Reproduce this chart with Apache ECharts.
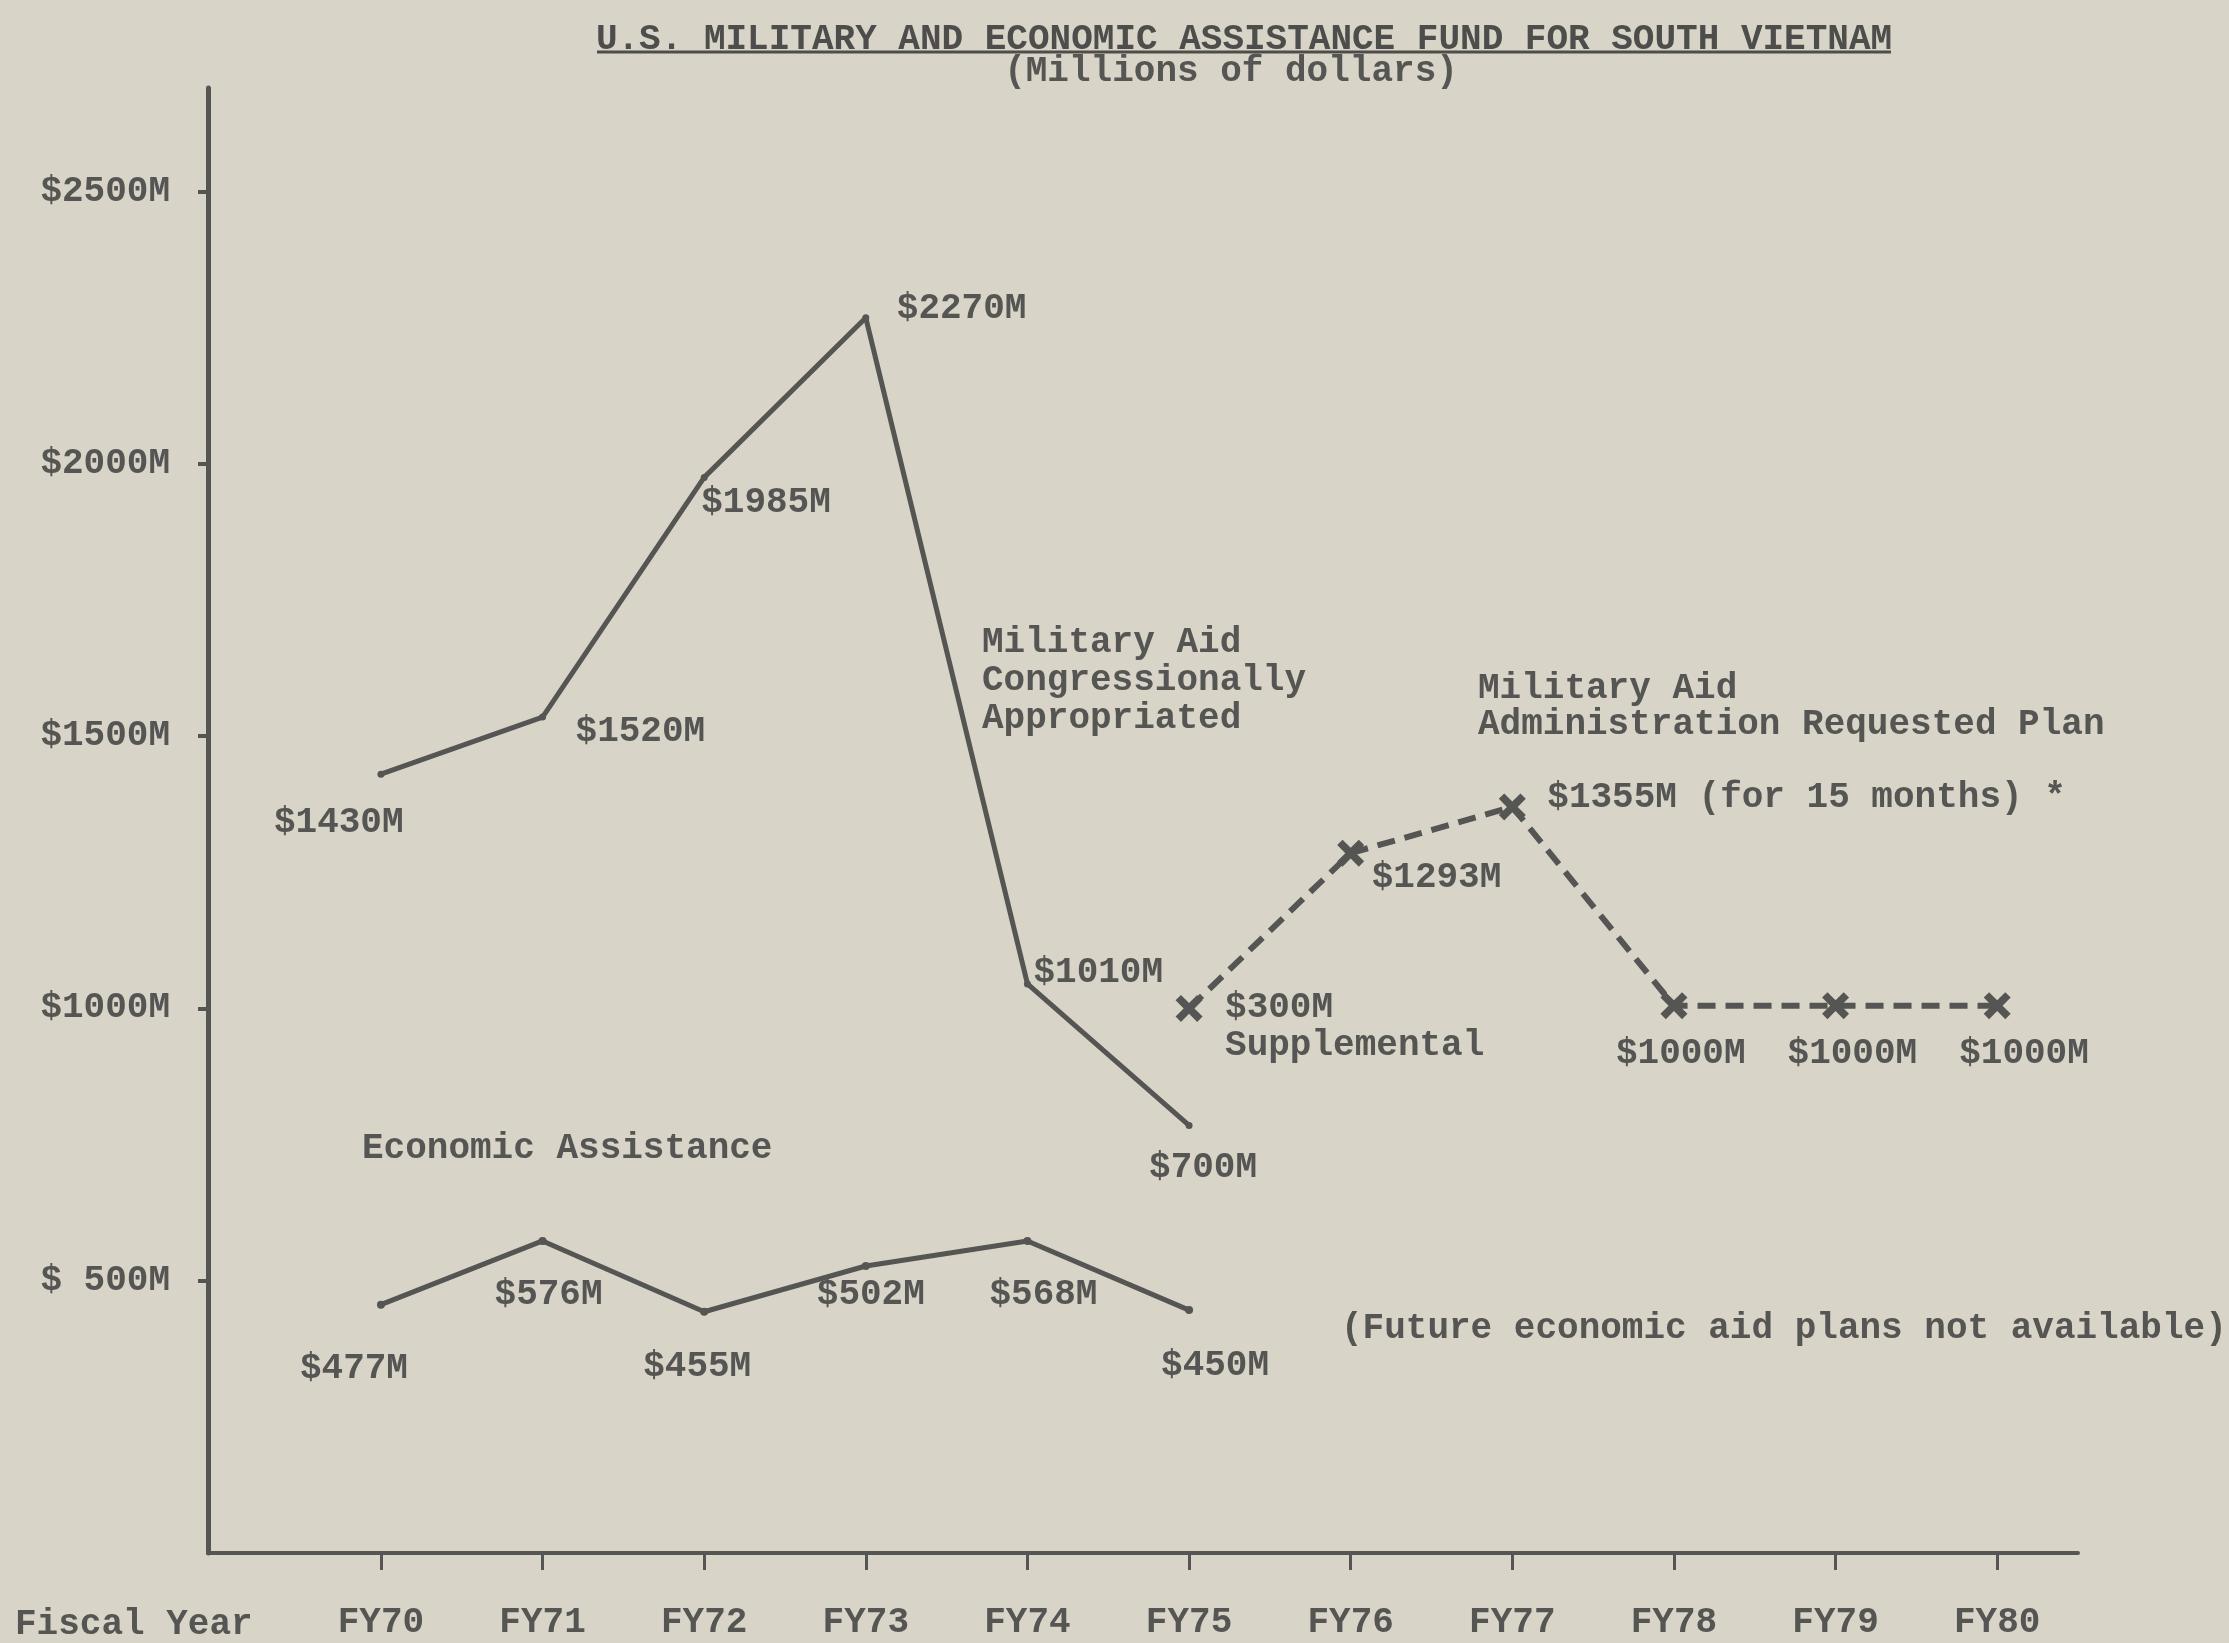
<!DOCTYPE html>
<html>
<head>
<meta charset="utf-8">
<script src="https://cdn.jsdelivr.net/npm/echarts@6/dist/echarts.min.js"></script>
<style>
html,body{margin:0;padding:0;background:#d9d4c8;}
#chart{width:2229px;height:1643px;}
</style>
</head>
<body>
<div id="chart"></div>
<script>
// ---- data ----
const fyLabels = ['FY70','FY71','FY72','FY73','FY74','FY75','FY76','FY77','FY78','FY79','FY80'];
const yTickValues = [500, 1000, 1500, 2000, 2500];
const yTickLabels = ['$ 500M', '$1000M', '$1500M', '$2000M', '$2500M'];

const militaryIdx = [0, 1, 2, 3, 4, 5];
const militaryValues = [1430, 1535, 1975, 2268, 1045, 785];
const militaryLabels = ['$1430M', '$1520M', '$1985M', '$2270M', '$1010M', '$700M'];

const economicIdx = [0, 1, 2, 3, 4, 5];
const economicValues = [456, 573, 443, 527, 573, 446];
const economicLabels = ['$477M', '$576M', '$455M', '$502M', '$568M', '$450M'];

const planIdx = [5, 6, 7, 8, 9, 10];
const planValues = [1000, 1285, 1370, 1005, 1005, 1005];
const planLabels = ['$300M\nSupplemental', '$1293M', '$1355M (for 15 months) *', '$1000M', '$1000M', '$1000M'];

// ---- styles ----
const FONT = '"Liberation Mono", "DejaVu Sans Mono", monospace';
const INK = '#555553';
const militaryOffsets = [[-107, 49], [33, 15], [-3, 26], [31, -9], [6, -11], [-40, 42]];
const economicOffsets = [[-81, 64], [-48, 54], [-61, 55], [-49, 29], [-38, 54], [-28, 56]];
const planOffsets = [[36, -19], [21, 25], [35, -9], [-58, 48], [-48, 48], [-38, 48]];

const txt = {fontFamily: FONT, fontSize: 36, fontWeight: 'bold', color: INK};

function build(idx, vals, labels, offs, extra) {
  return idx.map((x, i) => ({
    value: [x, vals[i]],
    label: Object.assign({
      show: true, formatter: labels[i], position: 'inside',
      align: 'left', verticalAlign: 'middle', offset: offs[i]
    }, extra || {})
  }));
}

const xSym = 'path://M2,0 L5,3 L8,0 L10,2 L7,5 L10,8 L8,10 L5,7 L2,10 L0,8 L3,5 L0,2 Z';

const chart = echarts.init(document.getElementById('chart'));
chart.setOption({
  backgroundColor: '#d9d4c8',
  animation: false,
  grid: {left: 208, right: 151, top: 88, bottom: 90, containLabel: false},
  xAxis: {
    type: 'value', min: -1.07, max: 10.5,
    splitLine: {show: false},
    axisLine: {show: true, onZero: false, lineStyle: {color: INK, width: 4}},
    axisTick: {show: true, customValues: fyLabels.map((_, i) => i), length: 17, lineStyle: {color: INK, width: 3}},
    axisLabel: {show: true, customValues: fyLabels.map((_, i) => i), formatter: v => fyLabels[Math.round(v)] || '',
      margin: 52, fontFamily: FONT, fontSize: 36, fontWeight: 'bold', color: INK}
  },
  yAxis: {
    type: 'value', min: 0, max: 2690,
    splitLine: {show: false},
    axisLine: {show: true, onZero: false, lineStyle: {color: INK, width: 5}},
    axisTick: {show: true, customValues: yTickValues, length: 10, lineStyle: {color: INK, width: 4}},
    axisLabel: {show: true, customValues: yTickValues,
      formatter: v => yTickLabels[yTickValues.indexOf(v)] || '',
      margin: 38, fontFamily: FONT, fontSize: 36, fontWeight: 'bold', color: INK}
  },
  series: [
    {
      name: 'Military Aid Congressionally Appropriated', type: 'line',
      data: build(militaryIdx, militaryValues, militaryLabels, militaryOffsets, txt),
      symbol: 'circle', symbolSize: 7, itemStyle: {color: INK},
      lineStyle: {color: INK, width: 5}, z: 3
    },
    {
      name: 'Economic Assistance', type: 'line',
      data: build(economicIdx, economicValues, economicLabels, economicOffsets, txt),
      symbol: 'circle', symbolSize: 8, itemStyle: {color: INK},
      lineStyle: {color: INK, width: 5}, z: 3
    },
    {
      name: 'Military Aid Administration Requested Plan', type: 'line',
      data: build(planIdx, planValues, planLabels, planOffsets,
        Object.assign({}, txt, {lineHeight: 38})).map((d, i) => {
          if (i === 0) d.label.verticalAlign = 'top';
          return d;
        }),
      symbol: xSym, symbolSize: 27, itemStyle: {color: INK},
      lineStyle: {color: INK, width: 6, type: [18, 10]}, z: 4
    }
  ],
  graphic: [
    {type: 'text', x: 1244, y: 40, style: {
      text: 'U.S. MILITARY AND ECONOMIC ASSISTANCE FUND FOR SOUTH VIETNAM',
      textAlign: 'center', textVerticalAlign: 'middle', font: 'bold 36px ' + FONT, fill: '#4d4d4b'}},
    {type: 'line', shape: {x1: 597, y1: 52, x2: 1891, y2: 52}, style: {stroke: '#4d4d4b', lineWidth: 3}},
    {type: 'text', x: 1231, y: 72, style: {text: '(Millions of dollars)', textAlign: 'center', textVerticalAlign: 'middle',
      font: 'bold 36px ' + FONT, fill: INK}},
    {type: 'text', x: 15, y: 1625, style: {text: 'Fiscal Year', textAlign: 'left', textVerticalAlign: 'middle',
      font: 'bold 36px ' + FONT, fill: INK}},
    {type: 'text', x: 982, y: 624, style: {text: 'Military Aid\nCongressionally\nAppropriated', textAlign: 'left', textVerticalAlign: 'top',
      font: 'bold 36px ' + FONT, lineHeight: 38, fill: INK}},
    {type: 'text', x: 1478, y: 671, style: {text: 'Military Aid\nAdministration Requested Plan', textAlign: 'left', textVerticalAlign: 'top',
      font: 'bold 36px ' + FONT, lineHeight: 36, fill: INK}},
    {type: 'text', x: 362, y: 1149, style: {text: 'Economic Assistance', textAlign: 'left', textVerticalAlign: 'middle',
      font: 'bold 36px ' + FONT, fill: INK}},
    {type: 'text', x: 1341, y: 1329, style: {text: '(Future economic aid plans not available)', textAlign: 'left', textVerticalAlign: 'middle',
      font: 'bold 36px ' + FONT, fill: INK}}
  ]
});
</script>
</body>
</html>
